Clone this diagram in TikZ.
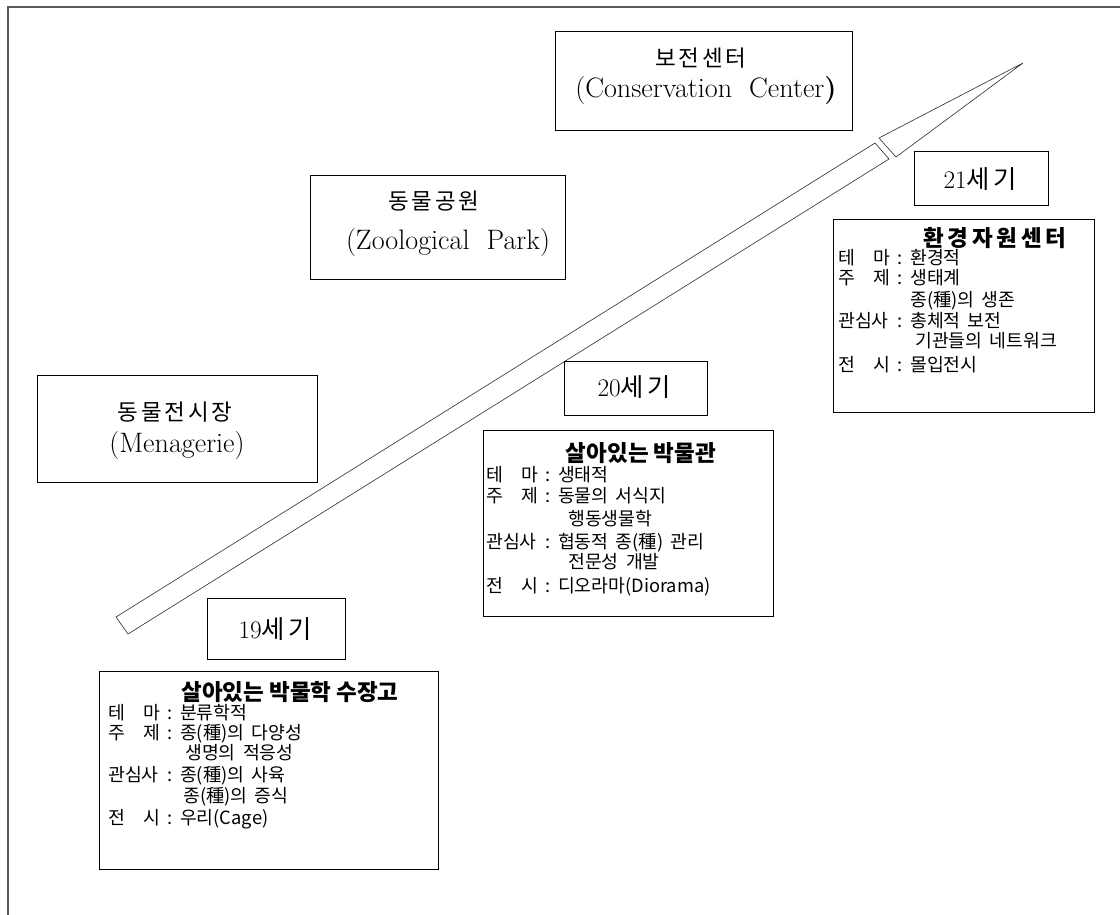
\documentclass[tikz,border=0pt]{standalone}
\usepackage{fontspec}
\usepackage{tikz}
\newfontfamily\kr{Noto Sans CJK KR}
\newfontfamily\krsp{Noto Sans CJK KR}[LetterSpace=12]
\newcommand{\rowlab}[1]{\makebox[1.3cm][s]{#1}\hspace{0.17cm}:\hspace{0.2cm}}
\newcommand{\widesp}{\spaceskip=0.4em\relax}

\begin{document}
\begin{tikzpicture}[x=0.025cm,y=-0.025cm,
  box/.style={draw=black,line width=0.6pt},
  arr/.style={draw=black!80,line width=0.45pt,line join=miter},
  head/.style={inner sep=0pt,font=\fontsize{20}{24}\selectfont},
  headkr/.style={inner sep=0pt,font=\krsp\fontsize{16}{20}\selectfont},
  cent/.style={inner sep=0pt,font=\fontsize{18}{22}\selectfont},
  ttl/.style={inner sep=0pt,font=\kr\bfseries\fontsize{16}{19}\selectfont},
  body/.style={inner sep=0pt,anchor=west,text height=0.85em,text depth=0.15em,
    font=\kr\fontsize{13}{16}\selectfont\widesp}]
\useasboundingbox (0,0) rectangle (1120,915);
\draw[line width=0.9pt,black!65] (8,915) -- (8,7) -- (1120,7); % frame

% arrow
\draw[arr] (116,617) -- (875,143) -- (889,159) -- (128,634) -- cycle;
\draw[arr] (879,138) -- (1023,63) -- (896,157) -- cycle;

% stages
\draw[box] (37,375) rectangle (317,482); % menagerie
\node[headkr] (menagKr) at (175,412) {동물전시장};
\node[head] (menagEn) at (177,445) {(Menagerie)};
\draw[box] (310,175) rectangle (565,279); % zoo
\node[headkr] (zooKr) at (434,201) {동물공원};
\node[head] (zooEn) at (448,242) {(Zoological\ \ Park)};
\draw[box] (555,31) rectangle (852,130); % conservation
\node[headkr] (consKr) at (701,58) {보전센터};
\node[head] (consEn) at (706,90) {(Conservation\ \ Center\textbf{)}};

% centuries
\draw[box] (207,598) rectangle (345,659);
\node[cent] (c19) at (275,629) {19{\krsp 세기}};
\draw[box] (564,361) rectangle (707,415);
\node[cent] (c20) at (634,387) {20{\krsp 세기}};
\draw[box] (914,151) rectangle (1048,205);
\node[cent] (c21) at (980,179) {21{\krsp 세기}};

% 19th century
\draw[box] (99,671) rectangle (438,869);
\node[ttl] (b19t) at (290,692) {살아있는 박물학 수장고};
\node[body] (b19a) at (108,715) {\rowlab{테\hfill 마}분류학적};
\node[body] (b19b) at (108,735) {\rowlab{주\hfill 제}종(種)의 다양성};
\node[body] (b19c) at (185,755) {생명의 적응성};
\node[body] (b19d) at (108,777) {\rowlab{관심사}종(種)의 사육};
\node[body] (b19e) at (183,798) {종(種)의 증식};
\node[body] (b19f) at (108,820) {\rowlab{전\hfill 시}우리(Cage)};

% 20th century
\draw[box] (483,430) rectangle (773,616);
\node[ttl] (b20t) at (641,453) {살아있는 박물관};
\node[body] (b20a) at (486,477) {\rowlab{테\hfill 마}생태적};
\node[body] (b20b) at (486,498) {\rowlab{주\hfill 제}동물의 서식지};
\node[body] (b20c) at (568,521) {행동생물학};
\node[body] (b20d) at (486,544) {\rowlab{관심사}협동적 종(種) 관리};
\node[body] (b20e) at (568,564) {전문성 개발};
\node[body] (b20f) at (486,588) {\rowlab{전\hfill 시}디오라마(Diorama)};

% 21st century
\draw[box] (833,219) rectangle (1094,412);
\node[ttl] (b21t) at (995,238) {환\,경\,자\,원\,센\,터};
\node[body] (b21a) at (838,260) {\rowlab{테\hfill 마}환경적};
\node[body] (b21b) at (838,280) {\rowlab{주\hfill 제}생태계};
\node[body] (b21c) at (910,302) {종(種)의 생존};
\node[body] (b21d) at (838,323) {\rowlab{관심사}총체적 보전};
\node[body] (b21e) at (915,343) {기관들의 네트워크};
\node[body] (b21f) at (838,367) {\rowlab{전\hfill 시}몰입전시};
\end{tikzpicture}
\end{document}
